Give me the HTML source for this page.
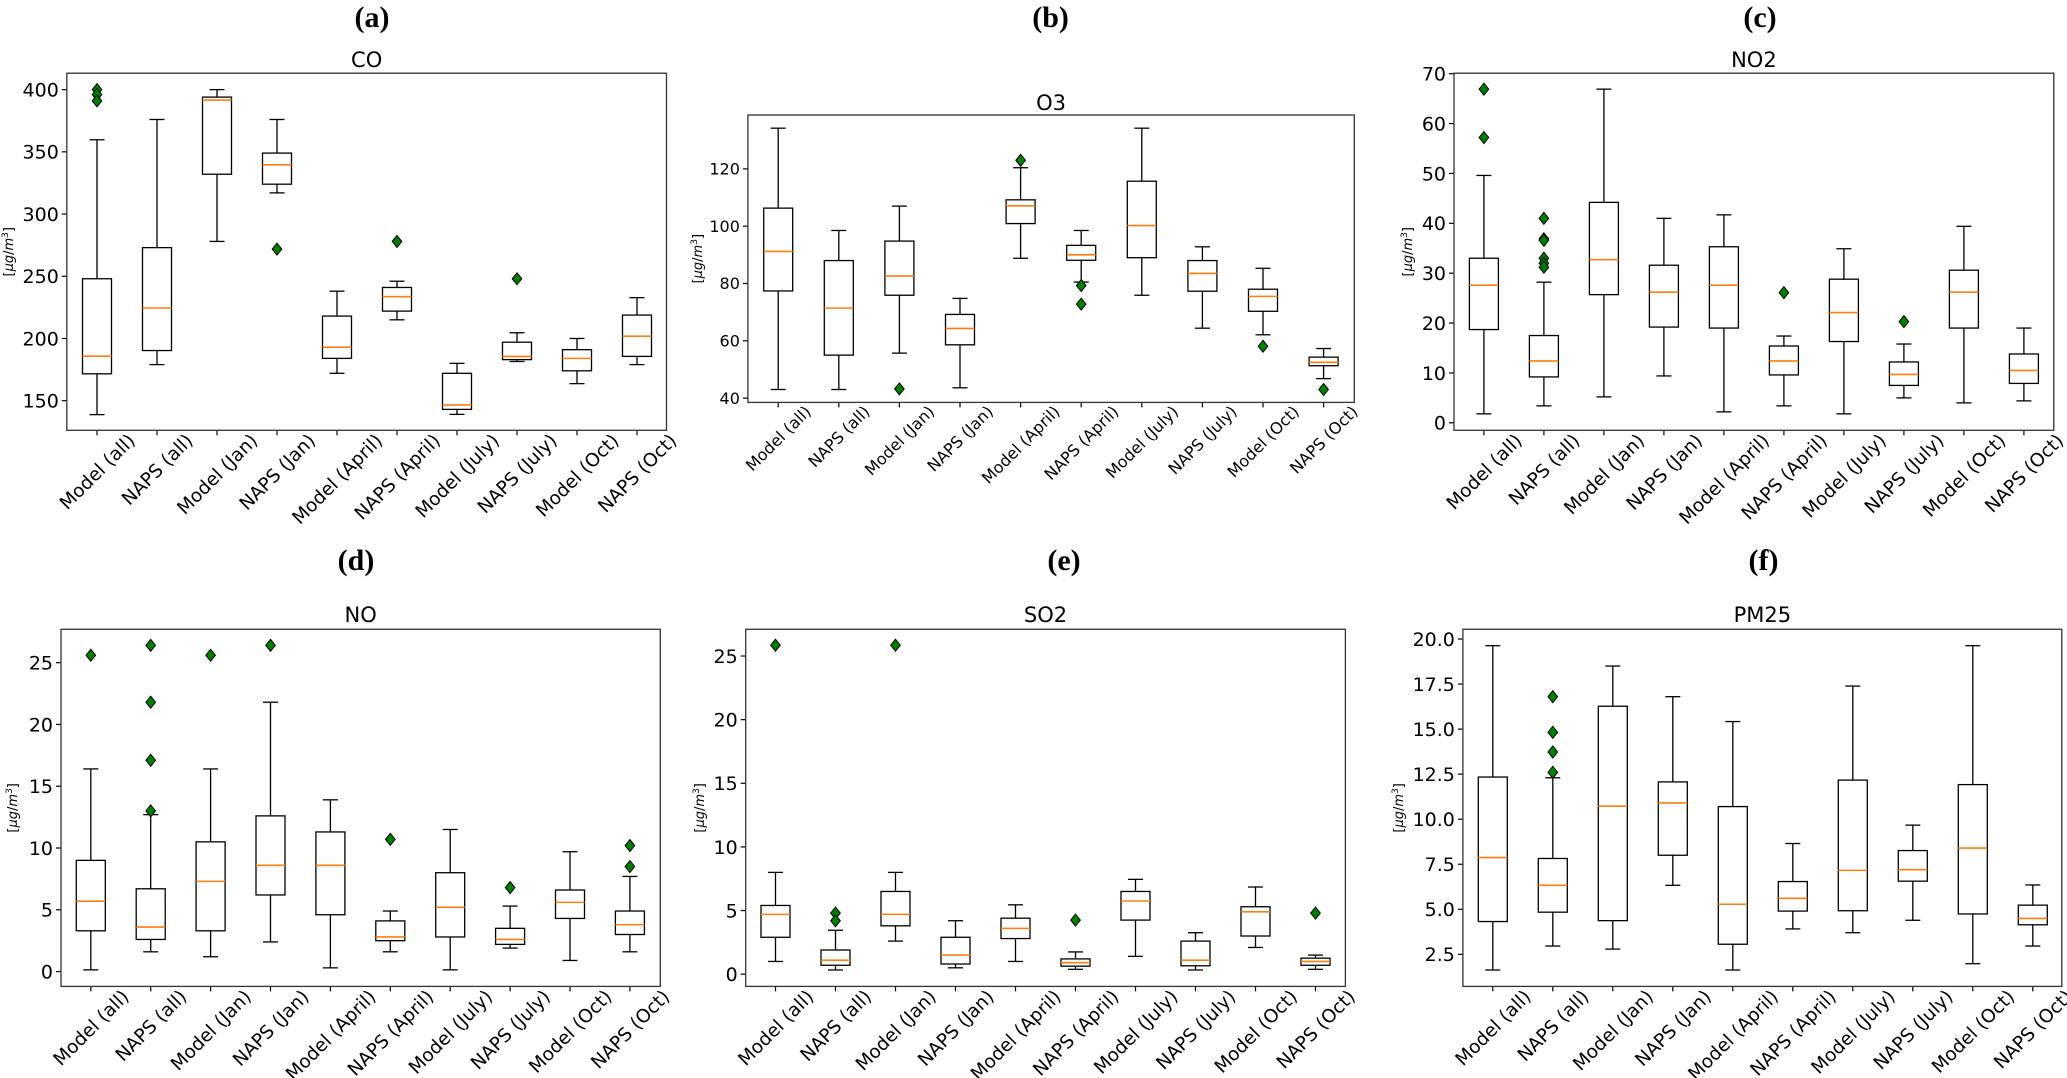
<!DOCTYPE html>
<html><head><meta charset="utf-8"><style>
html,body{margin:0;padding:0;background:#fff;}
svg{display:block;}
text{font-family:"DejaVu Sans","Liberation Sans",sans-serif;fill:#000;}
.lt{font-family:"Liberation Serif",serif;font-weight:bold;}
</style></head><body>
<svg id="fig" width="2067" height="1078" viewBox="0 0 2067 1078" xmlns="http://www.w3.org/2000/svg"></svg>
<script>
const categories = ["Model (all)","NAPS (all)","Model (Jan)","NAPS (Jan)","Model (April)","NAPS (April)","Model (July)","NAPS (July)","Model (Oct)","NAPS (Oct)"];

const coLo  = [138.8,179,278,317,172,215,139,181.5,163.7,179];
const coQ1  = [171.6,190.3,332,324,184,222,143,183,174,185.6];
const coMed = [185.8,224.5,391.6,339.6,193,233.6,146.6,185.6,184,201.8];
const coQ3  = [248,273,394,349,218,241,172,197,191,218.8];
const coHi  = [359.7,376,400,376,238,246,180,204.6,200,232.8];
const coOut = [[400,396,391],[],[],[271.8],[],[278],[],[248],[],[]];

const o3Lo  = [43,43,55.7,43.6,88.8,80.5,75.9,64.4,62.1,46.8];
const o3Q1  = [77.4,55,75.9,58.6,100.9,88.1,89,77.3,70.3,51.3];
const o3Med = [91.2,71.4,82.6,64.3,107.1,90,100.2,83.5,75.5,52.5];
const o3Q3  = [106.3,88,94.8,69.2,109.2,93.3,115.7,88,78,54.3];
const o3Hi  = [134.2,98.5,107,74.8,120.4,98.5,134.2,92.8,85.3,57.3];
const o3Out = [[],[],[43.2],[],[123],[79.3,72.8],[],[],[58.1],[43]];

const no2Lo  = [1.8,3.4,5.2,9.4,2.2,3.4,1.8,5,4,4.4];
const no2Q1  = [18.7,9.2,25.7,19.2,19,9.6,16.3,7.5,19,7.9];
const no2Med = [27.6,12.4,32.7,26.2,27.6,12.4,22.1,9.7,26.2,10.5];
const no2Q3  = [33,17.5,44.2,31.6,35.3,15.4,28.8,12.2,30.6,13.8];
const no2Hi  = [49.6,28.2,66.9,41,41.7,17.4,34.9,15.8,39.4,19];
const no2Out = [[66.9,57.2],[41,36.9,36.6,33,32,31.2],[],[],[],[26.1],[],[20.3],[],[]];

const noLo  = [0.14,1.6,1.2,2.4,0.3,1.6,0.14,1.9,0.9,1.6];
const noQ1  = [3.3,2.6,3.3,6.2,4.6,2.5,2.8,2.2,4.3,3];
const noMed = [5.7,3.6,7.3,8.6,8.6,2.8,5.2,2.6,5.6,3.8];
const noQ3  = [9,6.7,10.5,12.6,11.3,4.1,8,3.5,6.6,4.9];
const noHi  = [16.4,12.7,16.4,21.8,13.9,4.9,11.5,5.3,9.7,7.7];
const noOut = [[25.6],[26.4,21.8,17.1,13],[25.6],[26.4],[],[10.7],[],[6.8],[],[10.2,8.5]];

const so2Lo  = [1,0.33,2.6,0.5,1,0.38,1.4,0.33,2.1,0.38];
const so2Q1  = [2.9,0.7,3.8,0.8,2.8,0.63,4.25,0.66,3,0.7];
const so2Med = [4.7,1.1,4.7,1.5,3.6,0.9,5.75,1.1,4.9,1];
const so2Q3  = [5.4,1.9,6.5,2.9,4.4,1.2,6.5,2.6,5.3,1.26];
const so2Hi  = [8,3.45,8,4.2,5.45,1.75,7.45,3.26,6.85,1.5];
const so2Out = [[25.85],[4.8,4.2],[25.85],[],[],[4.25],[],[],[],[4.8]];

const pmLo  = [1.63,2.96,2.79,6.33,1.63,3.91,3.7,4.39,1.98,2.96];
const pmQ1  = [4.32,4.84,4.37,8,3.06,4.9,4.92,6.56,4.74,4.14];
const pmMed = [7.87,6.33,10.72,10.9,5.28,5.61,7.16,7.2,8.4,4.49];
const pmQ3  = [12.34,7.82,16.27,12.07,10.7,6.54,12.17,8.26,11.92,5.23];
const pmHi  = [19.63,12.3,18.5,16.8,15.42,8.65,17.39,9.67,19.63,6.35];
const pmOut = [[],[16.8,14.82,13.73,12.6],[],[],[],[],[],[],[],[]];

const coTicks = [150,200,250,300,350,400];
const o3Ticks = [40,60,80,100,120];
const no2Ticks = [0,10,20,30,40,50,60,70];
const noTicks = [0,5,10,15,20,25];
const so2Ticks = [0,5,10,15,20,25];
const pmTicks = [2.5,5,7.5,10,12.5,15,17.5,20];

const NS = "http://www.w3.org/2000/svg";
const svg = document.getElementById('fig');
function mk(tag, attrs, parent){
  const e = document.createElementNS(NS, tag);
  for (const k in attrs) e.setAttribute(k, attrs[k]);
  (parent||svg).appendChild(e);
  return e;
}

const panels = [
 {key:'co', letter:'(a)', title:'CO', L:66.8,R:666.5,T:73.2,B:430.3, dom:[126.2,413.2], x0:97, dx:60, lo:coLo,q1:coQ1,med:coMed,q3:coQ3,hi:coHi,out:coOut, ticks:coTicks, dec:0, fs:19, xfs:18.5, lx:372, ly:27, ty:67, yl:9},
 {key:'o3', letter:'(b)', title:'O3', L:747.9,R:1354.3,T:115,B:402.4, dom:[38.5,138.8], x0:778.2, dx:60.6, lo:o3Lo,q1:o3Q1,med:o3Med,q3:o3Q3,hi:o3Hi,out:o3Out, ticks:o3Ticks, dec:0, fs:16, xfs:16, lx:1050.6, ly:27, ty:110, yl:698},
 {key:'no2', letter:'(c)', title:'NO2', L:1454,R:2053.8,T:73.2,B:430.3, dom:[-1.5,70.1], x0:1483.9, dx:60, lo:no2Lo,q1:no2Q1,med:no2Med,q3:no2Q3,hi:no2Hi,out:no2Out, ticks:no2Ticks, dec:0, fs:19, xfs:18.5, lx:1760, ly:27, ty:67, yl:1408},
 {key:'no', letter:'(d)', title:'NO', L:61,R:660.3,T:629.3,B:986.4, dom:[-1.2,27.7], x0:90.8, dx:59.9, lo:noLo,q1:noQ1,med:noMed,q3:noQ3,hi:noHi,out:noOut, ticks:noTicks, dec:0, fs:19, xfs:18.5, lx:356, ly:570, ty:622, yl:13},
 {key:'so2', letter:'(e)', title:'SO2', L:745.7,R:1345.4,T:629.3,B:986.4, dom:[-0.96,27.1], x0:775.5, dx:60, lo:so2Lo,q1:so2Q1,med:so2Med,q3:so2Q3,hi:so2Hi,out:so2Out, ticks:so2Ticks, dec:0, fs:19, xfs:18.5, lx:1064, ly:570, ty:622, yl:700},
 {key:'pm25', letter:'(f)', title:'PM25', L:1462.9,R:2061.8,T:629.3,B:986.4, dom:[0.72,20.54], x0:1492.8, dx:60, lo:pmLo,q1:pmQ1,med:pmMed,q3:pmQ3,hi:pmHi,out:pmOut, ticks:pmTicks, dec:1, fs:19, xfs:18.5, lx:1763.5, ly:570, ty:622, yl:1399}
];

panels.forEach(p => {
  const g = mk('g', {});
  
  
  const y = v => p.B - (v - p.dom[0]) / (p.dom[1] - p.dom[0]) * (p.B - p.T);
  const x = i => p.x0 + i * p.dx;

  const lt = mk('text', {x:p.lx, y:p.ly, 'text-anchor':'middle', 'font-size':30, class:'lt'}, g);
  lt.textContent = p.letter;
  
  

  const tt = mk('text', {x:(p.L+p.R)/2, y:p.ty, 'text-anchor':'middle', 'font-size':21}, g);
  tt.textContent = p.title;
  
  

  const yl = mk('text', {x:0, y:0, 'text-anchor':'middle', 'font-size':13, transform:`translate(${p.yl+4},${(p.T+p.B)/2}) rotate(-90)`}, g);
  yl.innerHTML = '[<tspan font-style="italic">μg</tspan>/<tspan font-style="italic">m</tspan><tspan dy="-5" font-size="9">3</tspan><tspan dy="5">]</tspan>';
  
  

  p.ticks.forEach(t => {
    const yy = y(t);
    mk('line', {x1:p.L-5, x2:p.L, y1:yy, y2:yy, stroke:'#000', 'stroke-width':1.2}, g);
    const tl = mk('text', {x:p.L-8, y:yy + p.fs*0.36, 'text-anchor':'end', 'font-size':p.fs}, g);
    tl.textContent = t.toFixed(p.dec);
    
    
  });

  const bw = 29, cw = 15;
  categories.forEach((c, i) => {
    const cx = x(i);
    const bg = mk('g', {}, g);
    
    
    mk('line', {x1:cx, x2:cx, y1:y(p.hi[i]), y2:y(p.q3[i]), stroke:'#000', 'stroke-width':1.3}, bg);
    mk('line', {x1:cx, x2:cx, y1:y(p.q1[i]), y2:y(p.lo[i]), stroke:'#000', 'stroke-width':1.3}, bg);
    mk('line', {x1:cx-cw/2, x2:cx+cw/2, y1:y(p.hi[i]), y2:y(p.hi[i]), stroke:'#000', 'stroke-width':1.3}, bg);
    mk('line', {x1:cx-cw/2, x2:cx+cw/2, y1:y(p.lo[i]), y2:y(p.lo[i]), stroke:'#000', 'stroke-width':1.3}, bg);
    mk('rect', {x:cx-bw/2, y:y(p.q3[i]), width:bw, height:Math.max(0.5, y(p.q1[i]) - y(p.q3[i])), fill:'none', stroke:'#000', 'stroke-width':1.3}, bg);
    mk('line', {x1:cx-bw/2, x2:cx+bw/2, y1:y(p.med[i]), y2:y(p.med[i]), stroke:'#ff7f0e', 'stroke-width':1.6}, bg);
    p.out[i].forEach(v => {
      const oy = y(v), r = 6;
      const d = mk('polygon', {points:`${cx},${oy-r} ${cx+r*0.8},${oy} ${cx},${oy+r} ${cx-r*0.8},${oy}`, fill:'#008000', stroke:'#000', 'stroke-width':1}, bg);
      
      
    });
    mk('line', {x1:cx, x2:cx, y1:p.B, y2:p.B+5, stroke:'#000', 'stroke-width':1.2}, g);
    const xl = mk('text', {x:0, y:0, 'text-anchor':'middle', 'font-size':p.xfs}, g);
    xl.textContent = c;
    
    
    const w = xl.getComputedTextLength();
    const h = p.xfs * 0.72;
    const cyy = p.B + 2 + (w + h) * 0.7071 / 2;
    xl.setAttribute('transform', `translate(${cx},${cyy}) rotate(-45) translate(0,${p.xfs*0.36})`);
  });

  const frame = mk('rect', {x:p.L, y:p.T, width:p.R-p.L, height:p.B-p.T, fill:'none', stroke:'#333', 'stroke-width':1.3}, g);
  
  
});
</script>
</body></html>
